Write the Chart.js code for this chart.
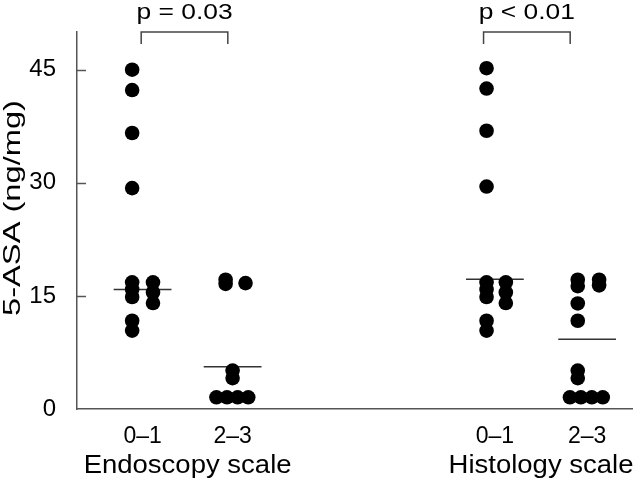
<!DOCTYPE html>
<html>
<head>
<meta charset="utf-8">
<script src="https://cdn.jsdelivr.net/npm/chart.js@4"></script>
<style>
    body { margin: 0; background: #fff; }
    #wrap { width: 640px; height: 480px; }
</style>
</head>
<body>
<div id="wrap"><canvas id="chart" width="640" height="480"></canvas></div>
<script>
// groups along the x axis
const tickLabels = ["0\u20131", "2\u20133", "0\u20131", "2\u20133"];
const groupPos = [1.18, 2.8, 7.52, 9.18];
const scaleNames = ["Endoscopy scale", "Histology scale"];
const pValues = ["p = 0.03", "p < 0.01"];
const yTicks = [0, 15, 30, 45];

// 5-ASA values (ng/mg) per group, with horizontal slot of each dot
const endo01 = [45.0, 42.3, 36.6, 29.3, 16.8, 15.85, 14.85, 16.8, 15.45, 14.05, 11.7, 10.4];
const endo01Slot = [-1, -1, -1, -1, -1, -1, -1, 1, 1, 1, -1, -1];
const endo23 = [17.15, 16.6, 16.7, 5.1, 4.1, 1.55, 1.55, 1.55, 1.55];
const endo23Slot = [-0.67, -0.67, 1.24, 0, 0, -1.55, -0.54, 0.48, 1.5];
const histo01 = [45.2, 42.5, 36.9, 29.5, 16.8, 15.85, 14.85, 16.8, 15.45, 14.05, 11.7, 10.4];
const histo01Slot = [-0.8, -0.8, -0.8, -0.8, -0.8, -0.8, -0.8, 1.05, 1.05, 1.05, -0.8, -0.8];
const histo23 = [17.15, 16.3, 14.0, 11.7, 17.15, 16.4, 5.1, 4.1, 1.55, 1.55, 1.55, 1.55];
const histo23Slot = [-0.9, -0.9, -0.9, -0.9, 1.15, 1.15, -0.9, -0.9, -1.65, -0.6, 0.45, 1.5];

const medians = [15.85, 5.6, 17.2, 9.25];

const groupValues = [endo01, endo23, histo01, histo23];
const groupSlots = [endo01Slot, endo23Slot, histo01Slot, histo23Slot];

const SLOT = 0.1875;
const MEDIAN_HALF = 0.52;
const FONT = "'Liberation Sans', Arial, Helvetica, sans-serif";

const dots = [];
groupValues.forEach(function (vals, g) {
    vals.forEach(function (v, i) {
        dots.push({ x: groupPos[g] + groupSlots[g][i] * SLOT, y: v });
    });
});

const medianSets = medians.map(function (m, g) {
    return {
        type: "line",
        data: [{ x: groupPos[g] - MEDIAN_HALF, y: m }, { x: groupPos[g] + MEDIAN_HALF, y: m }],
        borderColor: "#333",
        borderWidth: 1.5,
        pointRadius: 0,
        order: 2,
    };
});

// brackets for the p values, as pairs of x values
const brackets = [[1.155, 2.714], [7.316, 8.875]];

// draw text stretched horizontally, the figure's type is wider than Arial
function wideText(ctx, text, x, y, stretch) {
    ctx.save();
    ctx.translate(x, y);
    ctx.scale(stretch, 1);
    ctx.fillText(text, 0, 0);
    ctx.restore();
}

const extras = {
    id: "extras",
    afterDraw: function (chart) {
        const ctx = chart.ctx;
        const x = chart.scales.x;
        const y = chart.scales.y;
        const area = chart.chartArea;
        ctx.save();

        // inward y ticks
        ctx.strokeStyle = "#555";
        ctx.lineWidth = 1.5;
        y.ticks.forEach(function (t) {
            if (t.value === 0) return;
            const py = Math.round(y.getPixelForValue(t.value)) + 0.5;
            ctx.beginPath();
            ctx.moveTo(area.left, py);
            ctx.lineTo(area.left + 9, py);
            ctx.stroke();
        });

        // brackets and p values
        ctx.strokeStyle = "#444";
        ctx.fillStyle = "#000";
        ctx.font = "22px " + FONT;
        ctx.textAlign = "center";
        ctx.textBaseline = "alphabetic";
        brackets.forEach(function (b, i) {
            const x1 = x.getPixelForValue(b[0]);
            const x2 = x.getPixelForValue(b[1]);
            const top = area.top;
            ctx.beginPath();
            ctx.moveTo(x1, top + 12);
            ctx.lineTo(x1, top);
            ctx.lineTo(x2, top);
            ctx.lineTo(x2, top + 12);
            ctx.stroke();
            wideText(ctx, pValues[i], (x1 + x2) / 2, 19, 1.2);
        });

        // scale names under each pair of groups
        ctx.font = "25px " + FONT;
        ctx.textBaseline = "middle";
        scaleNames.forEach(function (name, i) {
            const cx = (x.getPixelForValue(groupPos[i * 2]) + x.getPixelForValue(groupPos[i * 2 + 1])) / 2;
            wideText(ctx, name, cx, 466, 1.1);
        });

        // y axis title
        ctx.font = "24px " + FONT;
        ctx.translate(13, 208);
        ctx.rotate(-Math.PI / 2);
        wideText(ctx, "5-ASA (ng/mg)", 0, 0, 1.36);
        ctx.restore();
    },
};

new Chart(document.getElementById("chart"), {
    type: "scatter",
    data: {
        datasets: [{
            data: dots,
            backgroundColor: "#000",
            borderWidth: 0,
            pointRadius: 7.3,
            pointHoverRadius: 7.3,
            order: 1,
        }].concat(medianSets),
    },
    options: {
        responsive: false,
        animation: false,
        layout: { padding: { top: 32, right: 3, left: 0, bottom: 0 } },
        plugins: {
            legend: { display: false },
            tooltip: { enabled: false },
        },
        scales: {
            x: {
                type: "linear",
                min: 0,
                max: 10,
                afterFit: function (scale) { scale.height = 71; },
                afterBuildTicks: function (scale) {
                    scale.ticks = groupPos.map(function (v) { return { value: v }; });
                },
                grid: { display: false },
                border: { color: "#555", width: 1.5 },
                ticks: {
                    autoSkip: false,
                    maxRotation: 0,
                    padding: 6,
                    color: "#000",
                    font: { family: FONT, size: 23 },
                    callback: function (value, index) { return tickLabels[index]; },
                },
            },
            y: {
                min: 0,
                max: 50,
                afterFit: function (scale) { scale.width = 77; },
                afterBuildTicks: function (scale) {
                    scale.ticks = yTicks.map(function (v) { return { value: v }; });
                },
                grid: { display: false },
                border: { color: "#555", width: 1.5 },
                ticks: {
                    padding: 13,
                    color: "#000",
                    font: { family: FONT, size: 24 },
                },
            },
        },
    },
    plugins: [extras],
});
</script>
</body>
</html>
